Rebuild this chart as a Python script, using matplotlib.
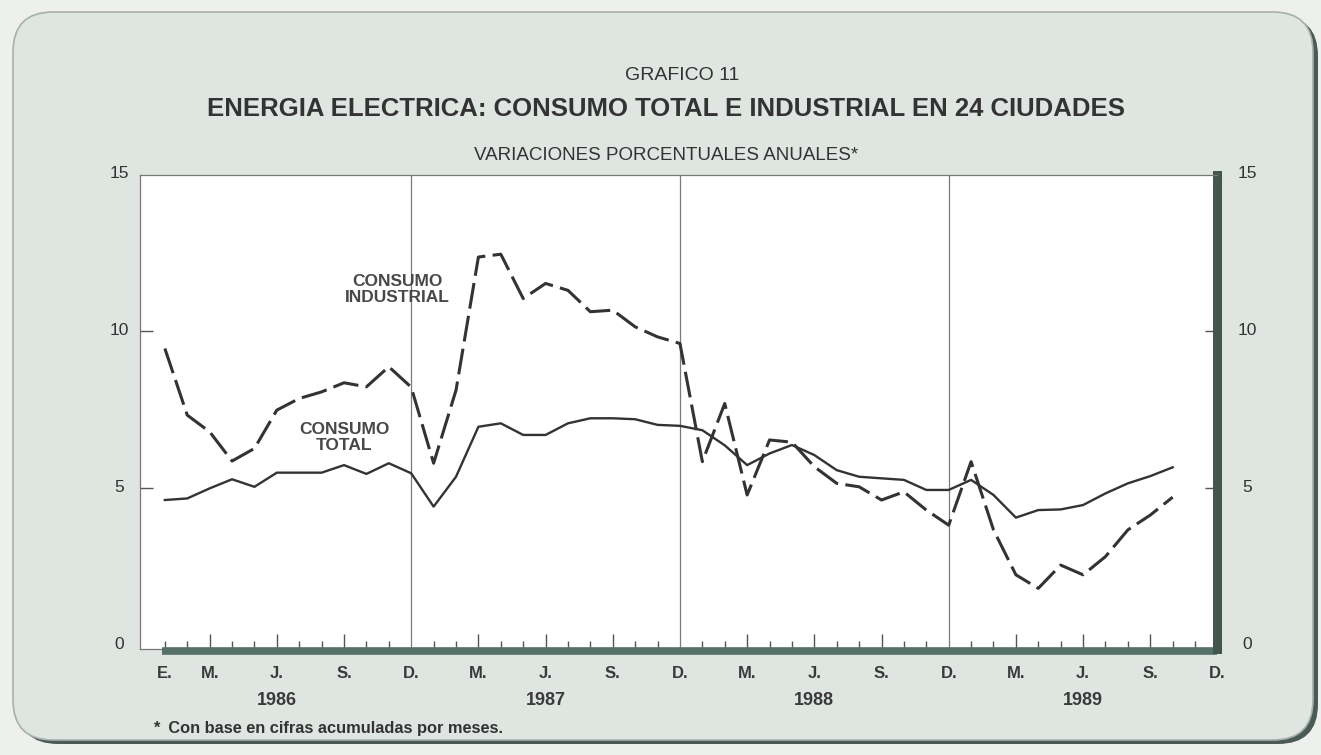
import matplotlib.pyplot as plt
from matplotlib.patches import FancyBboxPatch

# Monthly index: 0 = Jan 1986 ... 47 = Dec 1989 (data runs to Oct 1989)
consumo_total = [
    4.61, 4.66, 4.98, 5.27, 5.03, 5.48, 5.48, 5.48, 5.72, 5.44, 5.78, 5.46,
    4.40, 5.35, 6.94, 7.05, 6.68, 6.68, 7.05, 7.21, 7.21, 7.18, 7.00, 6.97,
    6.83, 6.35, 5.72, 6.09, 6.36, 6.04, 5.56, 5.35, 5.30, 5.25, 4.93, 4.93,
    5.25, 4.77, 4.05, 4.29, 4.31, 4.45, 4.82, 5.14, 5.37, 5.65,
]
consumo_industrial = [
    9.43, 7.31, 6.78, 5.85, 6.25, 7.47, 7.84, 8.05, 8.34, 8.21, 8.85, 8.20,
    5.78, 8.10, 12.34, 12.43, 11.02, 11.50, 11.28, 10.60, 10.65, 10.12, 9.80, 9.59,
    5.83, 7.68, 4.77, 6.52, 6.45, 5.67, 5.14, 5.03, 4.61, 4.87, 4.29, 3.81,
    5.83, 3.66, 2.23, 1.80, 2.54, 2.23, 2.81, 3.66, 4.13, 4.70,
]
month_labels = ["E.", "M.", "J.", "S.", "D.", "M.", "J.", "S.", "D.",
                "M.", "J.", "S.", "D.", "M.", "J.", "S.", "D."]
month_label_pos = [0, 2, 5, 8, 11, 14, 17, 20, 23, 26, 29, 32, 35, 38, 41, 44, 47]
years = ["1986", "1987", "1988", "1989"]
year_pos = [5, 17, 29, 41]
year_breaks = [11, 23, 35]
y_ticks = [0, 5, 10, 15]

plt.rcParams["font.family"] = ["Liberation Sans", "DejaVu Sans"]

W, H = 1321, 755
fig = plt.figure(figsize=(W / 100, H / 100), dpi=100, facecolor="#eef0ee")

# background panel
bg = fig.add_axes([0, 0, 1, 1], zorder=0)
bg.set_xlim(0, W)
bg.set_ylim(H, 0)
bg.axis("off")
bg.add_patch(FancyBboxPatch((18, 16), 1300, 728, boxstyle="round,pad=0,rounding_size=40",
                            facecolor="#4a5a54", edgecolor="none"))
bg.add_patch(FancyBboxPatch((13, 12), 1300, 728, boxstyle="round,pad=0,rounding_size=40",
                            facecolor="#dfe5e1", edgecolor="#a8b0ac", linewidth=1.2))

# main plot
ink = "#333333"
x0, x1, ytop, ybot = 140, 1217, 175, 649
ax = fig.add_axes([x0 / W, 1 - ybot / H, (x1 - x0) / W, (ybot - ytop) / H], zorder=2)
ax.set_facecolor("white")
ax.set_xlim(-1.11, 46.98)
ax.set_ylim(-0.13, 14.95)

for s in ["left", "top"]:
    ax.spines[s].set_color("#777777")
    ax.spines[s].set_linewidth(0.9)
ax.spines["right"].set_color("#44574f")
ax.spines["right"].set_linewidth(6.5)
ax.spines["bottom"].set_visible(False)
ax.plot([0, 1], [0, 0], transform=ax.transAxes, color="#777777", lw=0.9, clip_on=False)
ax.plot([0.02, 1], [-0.004, -0.004], transform=ax.transAxes, color="#557168", lw=5.5,
        solid_capstyle="butt", clip_on=False)

for b in year_breaks:
    ax.axvline(b, color="#7a7a7a", lw=0.9, zorder=1)

months = list(range(len(consumo_total)))
ax.plot(months, consumo_total, color=ink, lw=1.7, zorder=3)
line, = ax.plot(months, consumo_industrial, color=ink, lw=2.2, zorder=3)
line.set_dashes((8.5, 2.4))

# ticks
major = [m for m in range(47) if m % 12 in (2, 5, 8)]
minor = [m for m in range(47) if m % 12 not in (2, 5, 8, 11)]
ax.set_xticks(major)
ax.set_xticks(minor, minor=True)
ax.tick_params(axis="x", which="major", direction="in", length=11, width=1,
               color="#555555", labelbottom=False, pad=0)
ax.tick_params(axis="x", which="minor", direction="in", length=6, width=1,
               color="#555555", labelbottom=False)
ax.set_yticks([5, 10])
ax.tick_params(axis="y", direction="in", length=9, width=1, color="#555555",
               left=True, right=True, labelleft=False, labelright=False)

ytr = ax.get_yaxis_transform()
for v in y_ticks:
    ax.text(-0.019, v, str(v), transform=ytr, ha="center", va="center",
            fontsize=12.5, color=ink, clip_on=False)
    ax.text(1.028, v, str(v), transform=ytr, ha="center", va="center",
            fontsize=12.5, color=ink, clip_on=False)

xtr = ax.get_xaxis_transform()
for lab, p in zip(month_labels, month_label_pos):
    ax.text(p, -0.052, lab, transform=xtr, ha="center", va="center",
            fontsize=12, fontweight="bold", color="#3a3a3a", clip_on=False)
for lab, p in zip(years, year_pos):
    ax.text(p, -0.108, lab, transform=xtr, ha="center", va="center",
            fontsize=13, fontweight="bold", color="#3a3a3a", clip_on=False)

ax.text(10.4, 11.3, "CONSUMO\nINDUSTRIAL", ha="center", va="center", fontsize=12.5,
        fontweight="bold", color="#484848", linespacing=1.1, zorder=4)
ax.text(8.0, 6.6, "CONSUMO\nTOTAL", ha="center", va="center", fontsize=12.5,
        fontweight="bold", color="#484848", linespacing=1.1, zorder=4)

# titles
fig.text(682 / W, 1 - 76 / H, "GRAFICO 11", ha="center", va="center",
         fontsize=14, color=ink)
fig.text(666 / W, 1 - 109 / H, "ENERGIA ELECTRICA: CONSUMO TOTAL E INDUSTRIAL EN 24 CIUDADES",
         ha="center", va="center", fontsize=18.5, fontweight="bold", color=ink)
fig.text(666 / W, 1 - 155 / H, "VARIACIONES PORCENTUALES ANUALES*", ha="center",
         va="center", fontsize=13.5, color=ink)
fig.text(153 / W, 1 - 728 / H, "*  Con base en cifras acumuladas por meses.",
         ha="left", va="center", fontsize=11.8, fontweight="bold", color=ink)

fig.savefig("out.png", dpi=100, facecolor=fig.get_facecolor())
